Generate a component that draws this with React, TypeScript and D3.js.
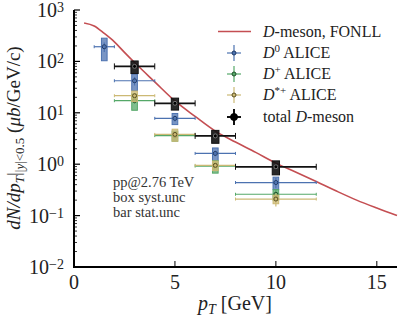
import React, { useEffect, useRef } from "react";
import * as d3 from "d3";

// FONLL curve
const fonllPt = [0.5, 1, 1.5, 2, 2.5, 3, 4, 5, 6, 7, 8, 9, 10, 11, 12, 13, 14, 15, 16];
const fonllY = [560, 490, 350, 240, 150, 95, 40, 17, 8.5, 4.4, 2.7, 1.7, 1.05, 0.7, 0.46, 0.3, 0.2, 0.14, 0.1];

// D0 ALICE
const d0Pt = [1.5, 3, 5, 7, 10];
const d0Lo = [1, 2, 4, 6, 8];
const d0Hi = [2, 4, 6, 8, 12];
const d0Y = [193, 42, 7.8, 1.62, 0.44];
const d0Stat = [40, 8, 1, 0.2, 0.1];
const d0Syst = [90, 15, 1.9, 0.45, 0.12];

// D+ ALICE
const dpPt = [3, 5, 7, 10];
const dpLo = [2, 4, 6, 8];
const dpHi = [4, 6, 8, 12];
const dpY = [17.2, 3.6, 0.92, 0.26];
const dpStat = [2, 0.4, 0.1, 0.06];
const dpSyst = [6, 0.8, 0.25, 0.06];

// D*+ ALICE
const dsPt = [3, 5, 7, 10];
const dsLo = [2, 4, 6, 8];
const dsHi = [4, 6, 8, 12];
const dsY = [21.5, 3.8, 0.95, 0.21];
const dsStat = [3, 0.5, 0.15, 0.06];
const dsSyst = [5, 1.0, 0.2, 0.04];

// total D-meson
const totPt = [3, 5, 7, 10];
const totLo = [2, 4, 6, 8];
const totHi = [4, 6, 8, 12];
const totY = [80, 15.3, 3.55, 0.89];
const totStat = [8, 1.5, 0.3, 0.1];
const totSyst = [22, 4, 1, 0.27];

const xTicks = [0, 5, 10, 15];
const yExps = [-2, -1, 0, 1, 2, 3];

const FONT = "'Liberation Serif', serif";

const App: React.FC = () => {
  const ref = useRef<SVGSVGElement>(null);

  useEffect(() => {
    if (!ref.current) return;
    const svg = d3.select(ref.current);
    svg.selectAll("*").remove();

    const width = 399;
    const height = 319;
    svg.attr("width", width).attr("height", height);

    const x = d3.scaleLinear().domain([0, 16]).range([74, 397]);
    const y = d3.scaleLog().domain([1e-2, 1e3]).range([267, 10]);

    // FONLL curve
    const line = d3
      .line<number>()
      .x((d, i) => x(fonllPt[i]))
      .y((d) => y(d))
      .curve(d3.curveMonotoneX);
    svg
      .append("path")
      .attr("d", line(fonllY))
      .attr("fill", "none")
      .attr("stroke", "#c44e52")
      .attr("stroke-width", 1.6);

    const drawSeries = (
      pt: number[], lo: number[], hi: number[], val: number[],
      stat: number[], syst: number[], color: string, dark: string,
      boxW: number, lw: number, total: boolean
    ) => {
      const g = svg.append("g");
      pt.forEach((p, i) => {
        // syst box
        g.append("rect")
          .attr("x", x(p - boxW))
          .attr("width", x(p + boxW) - x(p - boxW))
          .attr("y", y(val[i] + syst[i]))
          .attr("height", y(val[i] - syst[i]) - y(val[i] + syst[i]))
          .attr("fill", color)
          .attr("fill-opacity", total ? 0.9 : 0.75)
          .attr("stroke", color)
          .attr("stroke-width", 1);
        // x error
        g.append("line")
          .attr("x1", x(lo[i])).attr("x2", x(hi[i]))
          .attr("y1", y(val[i])).attr("y2", y(val[i]))
          .attr("stroke", color).attr("stroke-width", lw);
        [lo[i], hi[i]].forEach((e) => {
          g.append("line")
            .attr("x1", x(e)).attr("x2", x(e))
            .attr("y1", y(val[i]) - (total ? 3 : 1.5)).attr("y2", y(val[i]) + (total ? 3 : 1.5))
            .attr("stroke", color).attr("stroke-width", 1);
        });
        // stat error
        g.append("line")
          .attr("x1", x(p)).attr("x2", x(p))
          .attr("y1", y(val[i] + stat[i])).attr("y2", y(val[i] - stat[i]))
          .attr("stroke", color).attr("stroke-width", lw);
        g.append("circle")
          .attr("cx", x(p)).attr("cy", y(val[i]))
          .attr("r", 2)
          .attr("fill", total ? "#000" : "none")
          .attr("stroke", dark)
          .attr("stroke-width", 1);
      });
    };

    drawSeries(d0Pt, d0Lo, d0Hi, d0Y, d0Stat, d0Syst, "#4c72b0", "#1f3a66", 0.14, 1.2, false);
    drawSeries(dpPt, dpLo, dpHi, dpY, dpStat, dpSyst, "#55a868", "#1f4f2a", 0.14, 1.2, false);
    drawSeries(dsPt, dsLo, dsHi, dsY, dsStat, dsSyst, "#ccb974", "#5a4f20", 0.14, 1.2, false);
    drawSeries(totPt, totLo, totHi, totY, totStat, totSyst, "#111", "#777", 0.18, 1.8, true);

    // axes
    const axes = svg.append("g");
    axes.append("line")
      .attr("x1", 74).attr("x2", 74).attr("y1", 10).attr("y2", 267)
      .attr("stroke", "#000").attr("stroke-width", 2);
    axes.append("line")
      .attr("x1", 73).attr("x2", 397).attr("y1", 267).attr("y2", 267)
      .attr("stroke", "#000").attr("stroke-width", 2);

    xTicks.forEach((t) => {
      axes.append("line")
        .attr("x1", x(t)).attr("x2", x(t)).attr("y1", 267).attr("y2", 261)
        .attr("stroke", "#000").attr("stroke-width", 1);
      axes.append("text")
        .attr("x", x(t)).attr("y", 289)
        .attr("text-anchor", "middle")
        .attr("font-family", FONT).attr("font-size", 20)
        .attr("fill", "#222")
        .text(String(t));
    });

    yExps.forEach((e) => {
      const v = Math.pow(10, e);
      axes.append("line")
        .attr("x1", 74).attr("x2", 80).attr("y1", y(v)).attr("y2", y(v))
        .attr("stroke", "#000").attr("stroke-width", 1.2);
      if (e < 3) {
        for (let m = 2; m <= 9; m++) {
          axes.append("line")
            .attr("x1", 74).attr("x2", 77).attr("y1", y(m * v)).attr("y2", y(m * v))
            .attr("stroke", "#000").attr("stroke-width", 0.8);
        }
      }
      const tx = axes.append("text")
        .attr("x", 64).attr("y", y(v) + 7)
        .attr("text-anchor", "end")
        .attr("font-family", FONT).attr("font-size", 20)
        .attr("fill", "#222");
      tx.append("tspan").text("10");
      tx.append("tspan").attr("dy", -5).attr("font-size", 14).text(e < 0 ? "\u2212" + Math.abs(e) : String(e));
    });

    // x label
    const xl = svg.append("text")
      .attr("x", 235).attr("y", 310)
      .attr("text-anchor", "middle")
      .attr("font-family", FONT).attr("font-size", 20)
      .attr("fill", "#222");
    xl.append("tspan").attr("font-style", "italic").text("p");
    xl.append("tspan").attr("font-style", "italic").attr("font-size", 14).attr("dy", 4).text("T");
    xl.append("tspan").attr("dy", -4).text(" [GeV]");

    // y label
    const yl = svg.append("text")
      .attr("transform", "translate(20,138) rotate(-90)")
      .attr("text-anchor", "middle")
      .attr("font-family", FONT).attr("font-size", 19)
      .attr("fill", "#222");
    yl.append("tspan").attr("font-style", "italic").text("dN/dp");
    yl.append("tspan").attr("font-style", "italic").attr("font-size", 13).attr("dy", 4).text("T");
    yl.append("tspan").attr("dy", -4).text("|");
    yl.append("tspan").attr("font-size", 13).attr("dy", 4).text("|");
    yl.append("tspan").attr("font-size", 13).attr("font-style", "italic").text("y");
    yl.append("tspan").attr("font-size", 13).text("|<0.5");
    yl.append("tspan").attr("dy", -4).text(" (");
    yl.append("tspan").attr("font-style", "italic").text("\u03bcb");
    yl.append("tspan").text("/GeV/c)");

    // annotation
    const notes = ["pp@2.76 TeV", "box syst.unc", "bar stat.unc"];
    notes.forEach((n, i) => {
      svg.append("text")
        .attr("x", 113).attr("y", 187 + i * 15)
        .attr("font-family", FONT).attr("font-size", 14.5)
        .attr("fill", "#333")
        .text(n);
    });

    // legend
    const leg = svg.append("g");
    const lx = 234;
    const rows = [31.5, 53, 74, 95, 117];
    leg.append("line")
      .attr("x1", 218).attr("x2", 251).attr("y1", rows[0]).attr("y2", rows[0])
      .attr("stroke", "#c44e52").attr("stroke-width", 1.6);
    const legMarks: [string, string, number, boolean][] = [
      ["#4c72b0", "#1f3a66", 1.2, false],
      ["#55a868", "#1f4f2a", 1.2, false],
      ["#ccb974", "#5a4f20", 1.2, false],
      ["#111", "#000", 2, true],
    ];
    legMarks.forEach(([c, dk, lw, tot], i) => {
      const ry = rows[i + 1];
      leg.append("line").attr("x1", lx - 7).attr("x2", lx + 7).attr("y1", ry).attr("y2", ry)
        .attr("stroke", c).attr("stroke-width", lw);
      leg.append("line").attr("x1", lx).attr("x2", lx).attr("y1", ry - 8).attr("y2", ry + 8)
        .attr("stroke", c).attr("stroke-width", lw);
      leg.append("circle").attr("cx", lx).attr("cy", ry).attr("r", tot ? 3.5 : 2)
        .attr("fill", tot ? "#000" : c).attr("stroke", dk).attr("stroke-width", 1);
    });
    const legText: [string, string, string][] = [
      ["D", "", "-meson, FONLL"],
      ["D", "0", " ALICE"],
      ["D", "+", " ALICE"],
      ["D", "*+", " ALICE"],
      ["", "", "total "],
    ];
    legText.forEach(([it, sup, rest], i) => {
      const t = leg.append("text")
        .attr("x", 263).attr("y", rows[i] + 5)
        .attr("font-family", FONT).attr("font-size", 16)
        .attr("fill", "#222");
      if (i === 4) {
        t.append("tspan").text("total ");
        t.append("tspan").attr("font-style", "italic").text("D");
        t.append("tspan").text("-meson");
        return;
      }
      t.append("tspan").attr("font-style", "italic").text(it);
      if (sup) {
        t.append("tspan").attr("font-size", 11).attr("dy", -6).text(sup);
        t.append("tspan").attr("dy", 6).text(rest);
      } else {
        t.append("tspan").text(rest);
      }
    });
  }, []);

  return <svg ref={ref} style={{ position: "absolute", left: 0, top: 0 }}></svg>;
};

export default App;
